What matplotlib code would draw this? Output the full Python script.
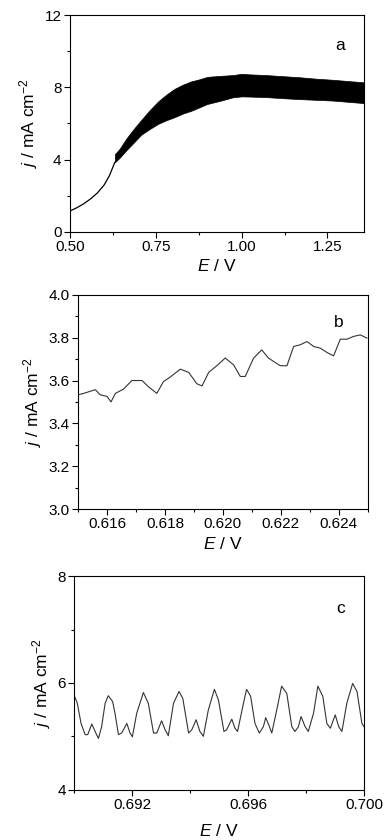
import numpy as np
import matplotlib
matplotlib.use('Agg')
import matplotlib.pyplot as plt
from matplotlib.ticker import MultipleLocator, FormatStrFormatter

plt.rcParams['font.family'] = ['Liberation Sans', 'DejaVu Sans']
plt.rcParams['mathtext.fontset'] = 'custom'
plt.rcParams['mathtext.rm'] = 'Liberation Sans'
plt.rcParams['mathtext.it'] = 'Liberation Sans:italic'

# panel a: smooth part, then envelope of the oscillating band
e_line = [0.500, 0.520, 0.540, 0.560, 0.580, 0.600, 0.615, 0.631]
j_line = [1.15, 1.33, 1.55, 1.82, 2.15, 2.60, 3.10, 3.85]
e_band = [0.631, 0.645, 0.665, 0.684, 0.708, 0.733, 0.757, 0.781, 0.805, 0.829,
          0.853, 0.878, 0.900, 0.926, 0.950, 0.975, 1.000, 1.023, 1.072, 1.120,
          1.169, 1.217, 1.265, 1.310, 1.355]
j_upper = [4.30, 4.60, 5.18, 5.65, 6.20, 6.75, 7.22, 7.60, 7.92, 8.15,
           8.33, 8.45, 8.58, 8.62, 8.65, 8.68, 8.75, 8.72, 8.68, 8.62,
           8.56, 8.48, 8.42, 8.35, 8.28]
j_lower = [3.85, 4.10, 4.53, 4.90, 5.38, 5.70, 5.98, 6.18, 6.35, 6.55,
           6.70, 6.90, 7.08, 7.20, 7.32, 7.45, 7.50, 7.49, 7.46, 7.40,
           7.35, 7.31, 7.27, 7.20, 7.13]

# panel b
e_b = [0.61500, 0.61520, 0.61543, 0.61560, 0.61577, 0.61600, 0.61614, 0.61629,
       0.61657, 0.61686, 0.61721, 0.61744, 0.61772, 0.61795, 0.61818, 0.61853,
       0.61882, 0.61910, 0.61928, 0.61951, 0.61979, 0.62008, 0.62037, 0.62060,
       0.62077, 0.62106, 0.62134, 0.62157, 0.62175, 0.62198, 0.62221, 0.62244,
       0.62267, 0.62290, 0.62313, 0.62336, 0.62359, 0.62382, 0.62405, 0.62428,
       0.62451, 0.62474, 0.62497]
j_b = [3.533, 3.540, 3.550, 3.557, 3.533, 3.526, 3.500, 3.540,
       3.560, 3.600, 3.600, 3.570, 3.540, 3.595, 3.616, 3.653,
       3.638, 3.585, 3.575, 3.638, 3.669, 3.705, 3.673, 3.619,
       3.619, 3.705, 3.743, 3.705, 3.689, 3.669, 3.669, 3.759,
       3.767, 3.782, 3.759, 3.751, 3.731, 3.715, 3.793, 3.793,
       3.806, 3.813, 3.798]

# panel c
e_c = [0.69000, 0.69011, 0.69024, 0.69038, 0.69047, 0.69061, 0.69075, 0.69084,
       0.69095, 0.69107, 0.69118, 0.69133, 0.69141, 0.69153, 0.69164, 0.69182,
       0.69193, 0.69201, 0.69216, 0.69239, 0.69256, 0.69274, 0.69285, 0.69302,
       0.69314, 0.69325, 0.69343, 0.69362, 0.69375, 0.69395, 0.69406, 0.69421,
       0.69434, 0.69446, 0.69463, 0.69484, 0.69498, 0.69517, 0.69526, 0.69544,
       0.69555, 0.69564, 0.69582, 0.69595, 0.69609, 0.69624, 0.69639, 0.69653,
       0.69661, 0.69674, 0.69682, 0.69699, 0.69716, 0.69734, 0.69751, 0.69762,
       0.69774, 0.69783, 0.69797, 0.69808, 0.69826, 0.69841, 0.69858, 0.69872,
       0.69884, 0.69901, 0.69913, 0.69924, 0.69941, 0.69961, 0.69976, 0.69993,
       0.70000]
j_c = [5.77, 5.62, 5.24, 5.03, 5.03, 5.23, 5.06, 4.96, 5.18, 5.62, 5.76, 5.65, 5.43, 5.03,
       5.06, 5.24, 5.06, 4.99, 5.43, 5.82, 5.62, 5.06, 5.06, 5.29, 5.12, 5.01, 5.62, 5.84,
       5.71, 5.06, 5.12, 5.31, 5.09, 5.00, 5.49, 5.88, 5.68, 5.09, 5.12, 5.32, 5.15, 5.09,
       5.56, 5.88, 5.75, 5.24, 5.06, 5.18, 5.35, 5.18, 5.06, 5.49, 5.94, 5.80, 5.18, 5.09,
       5.18, 5.37, 5.18, 5.09, 5.43, 5.94, 5.75, 5.24, 5.15, 5.40, 5.18, 5.09, 5.62,
       5.99, 5.84, 5.24, 5.18]

fig = plt.figure(figsize=(3.88, 8.4), dpi=100)
ax1 = fig.add_axes([0.180, 0.724, 0.757, 0.258])
ax2 = fig.add_axes([0.201, 0.394, 0.747, 0.255])
ax3 = fig.add_axes([0.191, 0.060, 0.747, 0.254])


def style(ax, xpad=3):
    ax.tick_params(which='major', direction='out', length=4, width=0.8, labelsize=11,
                   top=False, right=False, pad=2)
    ax.tick_params(which='minor', direction='out', length=2, width=0.8,
                   top=False, right=False)
    for s in ['top', 'bottom']:
        ax.spines[s].set_linestyle((0, (1, 1)))
        ax.spines[s].set_linewidth(0.8)
    for s in ['left', 'right']:
        ax.spines[s].set_linewidth(0.8)
    ax.set_xlabel('$E$ / V', fontsize=12.5, labelpad=xpad)
    ax.set_ylabel('$j$ / mA cm$^{-2}$', fontsize=12.5, labelpad=3)


ax1.plot(e_line, j_line, color='black', lw=0.9)
ax1.fill_between(e_band, j_lower, j_upper, color='black', lw=0.5)
ax1.set_xlim(0.5, 1.355)
ax1.set_ylim(0, 12)
ax1.xaxis.set_major_locator(MultipleLocator(0.25))
ax1.xaxis.set_minor_locator(MultipleLocator(0.125))
ax1.xaxis.set_major_formatter(FormatStrFormatter('%.2f'))
ax1.yaxis.set_major_locator(MultipleLocator(4))
ax1.yaxis.set_minor_locator(MultipleLocator(2))
ax1.text(0.92, 0.86, 'a', transform=ax1.transAxes, fontsize=12.5, ha='center', va='center')
style(ax1)

ax2.plot(e_b, j_b, color='#333333', lw=0.8)
ax2.set_xlim(0.615, 0.625)
ax2.set_ylim(3.0, 4.0)
ax2.xaxis.set_major_locator(MultipleLocator(0.002))
ax2.xaxis.set_minor_locator(MultipleLocator(0.001))
ax2.xaxis.set_major_formatter(FormatStrFormatter('%.3f'))
ax2.yaxis.set_major_locator(MultipleLocator(0.2))
ax2.yaxis.set_minor_locator(MultipleLocator(0.1))
ax2.yaxis.set_major_formatter(FormatStrFormatter('%.1f'))
ax2.text(0.90, 0.87, 'b', transform=ax2.transAxes, fontsize=12.5, ha='center', va='center')
style(ax2)

ax3.plot(e_c, j_c, color='#333333', lw=0.8)
ax3.set_xlim(0.690, 0.700)
ax3.set_ylim(4, 8)
ax3.xaxis.set_major_locator(MultipleLocator(0.004))
ax3.xaxis.set_minor_locator(MultipleLocator(0.002))
ax3.xaxis.set_major_formatter(FormatStrFormatter('%.3f'))
ax3.yaxis.set_major_locator(MultipleLocator(2))
ax3.yaxis.set_minor_locator(MultipleLocator(1))
ax3.text(0.92, 0.85, 'c', transform=ax3.transAxes, fontsize=12.5, ha='center', va='center')
style(ax3, xpad=8)

fig.savefig('out.png', dpi=100)
